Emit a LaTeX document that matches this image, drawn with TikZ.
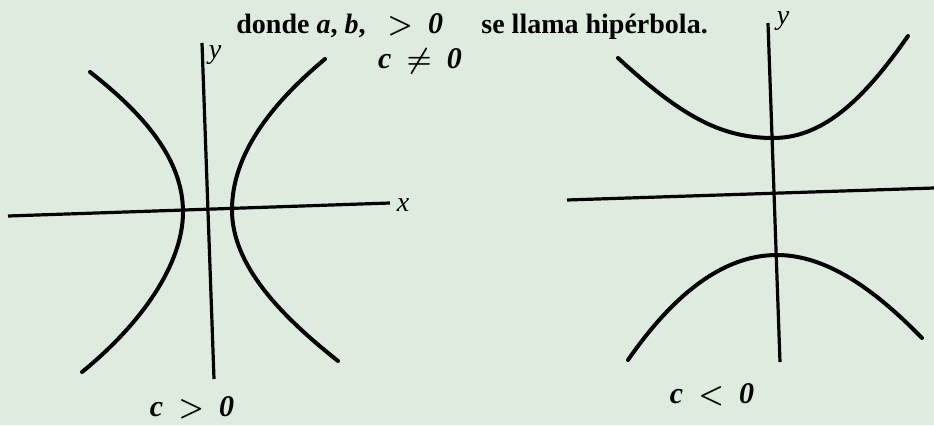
\documentclass[tikz,border=0pt]{standalone}
\usepackage{fontspec}
\setmainfont{Liberation Serif}
\definecolor{paper}{RGB}{221,236,222}
\tikzset{
  branch/.style={line width=2pt, line cap=round},
  axis/.style={line width=1.6pt},
  txt/.style={font=\fontsize{14}{16}\selectfont\bfseries, inner sep=0pt},
  cond/.style={font=\fontsize{15}{18}\selectfont\bfseries\itshape\boldmath, inner sep=0pt},
  var/.style={font=\fontsize{14}{16}\selectfont\itshape, inner sep=0pt}
}

\begin{document}
\begin{tikzpicture}[x=0.5pt,y=0.5pt]
  \fill[paper] (0,0) rectangle (934,425); \useasboundingbox (0,0) rectangle (934,425);
  % c > 0
  \draw[axis] (8,209) -- (390,222); \node[var] (xl) at (403,220) {x};
  \draw[axis] (214,46) -- (202,382); \node[var] (yl) at (215,370) {y};
  \draw[branch] (90,353) .. controls (145,310) and (183,265) .. (183,213) .. controls (183,160) and (140,100) .. (82,53);
  \draw[branch] (325,366) .. controls (270,320) and (232,270) .. (232,215) .. controls (232,160) and (280,110) .. (338,64);
  \node[cond] (cpos) at (192,17) {c\enspace$>$\enspace0};
  % c < 0
  \draw[axis] (567,225) -- (934,237);
  \draw[axis] (780,63) -- (768,402); \node[var] (yr) at (783,404) {y};
  \draw[branch] (618,367) .. controls (680,310) and (720,287) .. (773,287) .. controls (820,287) and (860,320) .. (908,389);
  \draw[branch] (628,65) .. controls (680,140) and (730,170) .. (777,170) .. controls (830,170) and (880,130) .. (922,87);
  \node[cond] (cneg) at (712,30) {c\enspace$<$\enspace0};
  % texto
  \node[txt, anchor=base west] (donde) at (236,392) {donde \textit{a}, \textit{b},};
  \node[cond, anchor=base west] (gt) at (387,392) {$>$\enspace0};
  \node[txt, anchor=base west] (llama) at (481,392) {se llama hipérbola.};
  \node[cond] (cne) at (420,364) {c\enspace$\neq$\enspace0};
\end{tikzpicture}
\end{document}
